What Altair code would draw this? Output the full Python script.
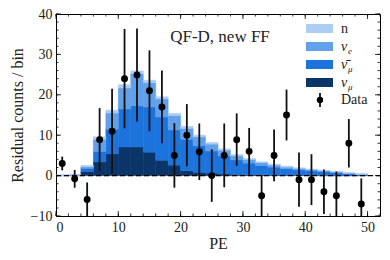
import altair as alt
import pandas as pd

# ---------------- data ----------------
bin_lo = list(range(0, 50, 2))          # bin lower edges (width 2 PE)
numu    = [0, 0, 1.0, 3.4, 5.4, 7.1, 7.1, 5.8, 3.8, 2.6, 1.2, 0.8, 0.6, 0.4, 0.3, 0.2, 0.2, 0.1, 0.1, 0.1, 0.05, 0, 0, 0, 0]
nubarmu = [0.05, 0.1, 0.8, 2.6, 6.1, 9.4, 10.2, 11.2, 10.7, 8.7, 7.8, 6.6, 5.5, 4.5, 3.6, 2.9, 2.3, 2.0, 1.6, 1.3, 1.15, 1.0, 0.75, 0.5, 0.3]
nue     = [0.03, 0.05, 0.4, 3.0, 4.0, 5.2, 7.9, 6.0, 4.5, 3.6, 2.7, 2.2, 1.7, 1.4, 1.0, 0.9, 0.7, 0.5, 0.4, 0.4, 0.3, 0.2, 0.15, 0.1, 0.05]
n_bkg   = [0.02, 0.05, 0.3, 0.6, 0.7, 0.8, 0.7, 0.6, 0.5, 0.5, 0.5, 0.4, 0.4, 0.3, 0.3, 0.2, 0.2, 0.2, 0.2, 0.1, 0.1, 0.1, 0.1, 0.1, 0.05]

data_x   = [1, 3, 5, 7, 9, 11, 13, 15, 17, 19, 21, 23, 25, 27, 29, 31, 33, 35, 37, 39, 41, 43, 45, 47, 49]
data_y   = [3.0, -0.8, -5.9, 8.9, 11.0, 24.0, 24.9, 21.0, 17.0, 5.0, 10.0, 5.9, 0.0, 5.0, 8.9, 6.0, -5.0, 5.0, 15.0, -1.0, -1.0, -4.0, -5.0, 8.0, -7.0]
data_err = [1.7, 2.2, 4.2, 7.8, 10.5, 12.3, 11.5, 10.0, 9.0, 8.0, 7.7, 7.0, 6.5, 7.9, 6.5, 5.8, 5.1, 6.4, 6.3, 6.7, 6.3, 5.5, 6.0, 6.0, 6.3]

comp_names  = ["νμ", "ν̄μ", "νe", "n"]
comp_colors = ["#0b3468", "#1c73db", "#62a0ea", "#aecdf3"]

x_ticks_major = [0, 10, 20, 30, 40, 50]
y_ticks_major = [-10, 0, 10, 20, 30, 40]
x_ticks_minor = list(range(0, 53, 2))
y_ticks_minor = list(range(-10, 41, 2))

legend_main = ["n", "ν", "ν̄", "ν"]
legend_sub  = ["", "e", "μ", "μ"]
legend_cols = ["#aecdf3", "#62a0ea", "#1c73db", "#0b3468"]

# ---------------- tables ----------------
rows = []
for order, (name, vals) in enumerate(zip(comp_names, [numu, nubarmu, nue, n_bkg])):
    for lo, v in zip(bin_lo, vals):
        rows.append({"lo": lo, "hi": lo + 2, "value": v, "comp": name, "order": order})
hist = pd.DataFrame(rows)

pts = pd.DataFrame({"x": data_x, "y": data_y, "err": data_err})
pts["lo"] = pts["y"] - pts["err"]
pts["hi"] = pts["y"] + pts["err"]

W, H = 324, 202
FONT = "Liberation Serif"

xs = alt.Scale(domain=[0, 52], nice=False, zero=False)
ys = alt.Scale(domain=[-10, 40], nice=False, zero=False)

x_axis = alt.Axis(values=x_ticks_major, title="PE", ticks=False, domain=False, grid=False,
                  labelPadding=4, titlePadding=1, format="d")
y_axis = alt.Axis(values=y_ticks_major, title="Residual counts / bin", ticks=False, domain=False,
                  grid=False, labelPadding=4, titlePadding=5, format="d")

color_scale = alt.Scale(domain=comp_names, range=comp_colors)

bars = alt.Chart(hist).transform_stack(
    stack="value", groupby=["lo"], as_=["y0", "y1"],
    sort=[alt.SortField(field="order", order="ascending")]
).mark_rect(clip=True, strokeWidth=0.6).encode(
    x=alt.X("lo:Q", scale=xs, axis=x_axis),
    x2="hi:Q",
    y=alt.Y("y0:Q", scale=ys, axis=y_axis),
    y2="y1:Q",
    color=alt.Color("comp:N", scale=color_scale, legend=None),
    stroke=alt.Stroke("comp:N", scale=color_scale, legend=None),
)

zero_line = alt.Chart(pd.DataFrame({"z": [0]})).mark_rule(
    color="black", strokeDash=[5, 3], strokeWidth=1.3
).encode(y=alt.Y("z:Q", scale=ys), x=alt.value(0), x2=alt.value(W))

errbars = alt.Chart(pts).mark_rule(color="#111", strokeWidth=1.8, clip=True).encode(
    x=alt.X("x:Q", scale=xs), y=alt.Y("lo:Q", scale=ys), y2="hi:Q"
)
points = alt.Chart(pts).mark_circle(color="black", opacity=1, size=48, clip=True).encode(
    x=alt.X("x:Q", scale=xs), y=alt.Y("y:Q", scale=ys)
)

# inward ticks on all four sides
def xticks(vals, length):
    df = pd.DataFrame({"t": vals})
    b = alt.Chart(df).mark_rule(color="black", strokeWidth=0.8).encode(
        x=alt.X("t:Q", scale=xs), y=alt.value(H), y2=alt.value(H - length))
    t = alt.Chart(df).mark_rule(color="black", strokeWidth=0.8).encode(
        x=alt.X("t:Q", scale=xs), y=alt.value(0), y2=alt.value(length))
    return b + t

def yticks(vals, length):
    df = pd.DataFrame({"t": vals})
    l = alt.Chart(df).mark_rule(color="black", strokeWidth=0.8).encode(
        y=alt.Y("t:Q", scale=ys), x=alt.value(0), x2=alt.value(length))
    r = alt.Chart(df).mark_rule(color="black", strokeWidth=0.8).encode(
        y=alt.Y("t:Q", scale=ys), x=alt.value(W), x2=alt.value(W - length))
    return l + r

ticks = xticks(x_ticks_major, 5) + xticks(x_ticks_minor, 2.5) + yticks(y_ticks_major, 5) + yticks(y_ticks_minor, 2.5)

# title text inside the plot
title_txt = alt.Chart(pd.DataFrame({"s": ["QF-D, new FF"]})).mark_text(
    font=FONT, fontSize=17, align="center", baseline="middle", color="#222"
).encode(text="s:N", x=alt.value(164), y=alt.value(23))

# manual legend
leg = pd.DataFrame({"main": legend_main, "sub": legend_sub, "col": legend_cols, "i": list(range(4))})
leg_base = alt.Chart(leg).transform_calculate(py="10 + 18 * datum.i", py2="19 + 18 * datum.i",
                                              pc="14.5 + 18 * datum.i", ps="18.5 + 18 * datum.i")
leg_rect = leg_base.mark_rect().encode(
    x=alt.value(250), x2=alt.value(277),
    y=alt.Y("py:Q", scale=None), y2="py2:Q",
    color=alt.Color("col:N", scale=None, legend=None))
leg_greek = leg_base.transform_filter("datum.sub != ''").mark_text(
    font=FONT, fontSize=14, align="left", baseline="middle", fontStyle="italic", color="#222").encode(
    text="main:N", x=alt.value(285), y=alt.Y("pc:Q", scale=None))
leg_plain = leg_base.transform_filter("datum.sub == ''").mark_text(
    font=FONT, fontSize=14, align="left", baseline="middle", color="#222").encode(
    text="main:N", x=alt.value(285), y=alt.Y("pc:Q", scale=None))
leg_sub = leg_base.transform_filter("datum.sub != ''").mark_text(
    font=FONT, fontSize=9, align="left", baseline="middle", fontStyle="italic", color="#222").encode(
    text="sub:N", x=alt.value(292), y=alt.Y("ps:Q", scale=None))

dleg = pd.DataFrame({"lab": ["Data"]})
dleg_bar = alt.Chart(dleg).mark_rule(color="#111", strokeWidth=1.8).encode(
    x=alt.value(264), y=alt.value(79), y2=alt.value(93))
dleg_pt = alt.Chart(dleg).mark_point(filled=True, shape="circle", color="black", opacity=1, size=40).encode(
    x=alt.value(264), y=alt.value(86))
dleg_txt = alt.Chart(dleg).mark_text(font=FONT, fontSize=14, align="left", baseline="middle", color="#222").encode(
    text="lab:N", x=alt.value(285), y=alt.value(86))

chart = alt.layer(
    bars, zero_line, errbars, points, ticks, title_txt,
    leg_rect, leg_greek, leg_plain, leg_sub, dleg_bar, dleg_pt, dleg_txt
).properties(
    width=W, height=H,
    padding={"left": 48, "top": 6, "right": 2, "bottom": 36},
    autosize=alt.AutoSizeParams(type="none"),
).configure_view(
    stroke="black", strokeWidth=1
).configure_axis(
    labelFont=FONT, titleFont=FONT, labelFontSize=14, titleFontSize=16,
    labelColor="#222", titleColor="#222", titleFontWeight="normal"
)

chart.save("out.html", embed_options={"renderer": "svg", "actions": False})
